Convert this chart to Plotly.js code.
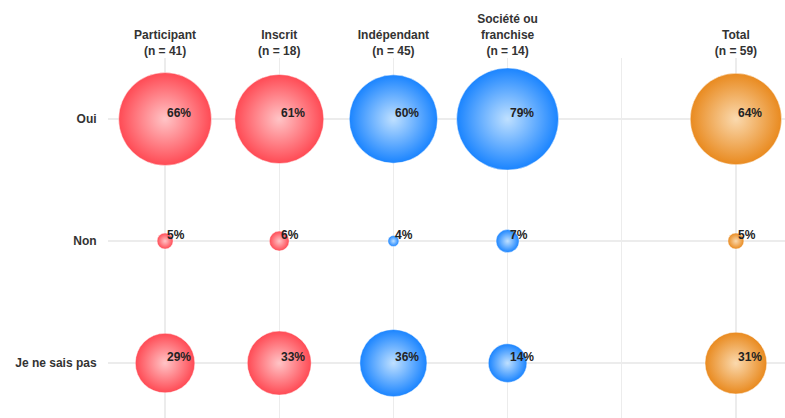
<!DOCTYPE html>
<html>
<head>
<meta charset="utf-8">
<script src="https://cdn.plot.ly/plotly-3.0.1.min.js"></script>
<style>html,body{margin:0;padding:0;background:#fff;}#chart{width:785px;height:418px;}</style>
</head>
<body>
<div id="chart"></div>
<script>
// ---- data ----
var columns = ["Participant<br>(n = 41)", "Inscrit<br>(n = 18)", "Indépendant<br>(n = 45)", "Société ou<br>franchise<br>(n = 14)", "", "Total<br>(n = 59)"];
var rows = ["Oui", "Non", "Je ne sais pas"];
var participant = [66, 5, 29];
var inscrit = [61, 6, 33];
var independant = [60, 4, 36];
var societe = [79, 7, 14];
var total = [64, 5, 31];

// ---- styling ----
var series = [
  {col: 0, vals: participant, edge: "#ff4a54", center: "#ffc4c6"},
  {col: 1, vals: inscrit, edge: "#ff4a54", center: "#ffc4c6"},
  {col: 2, vals: independant, edge: "#1a84ff", center: "#bfe0ff"},
  {col: 3, vals: societe, edge: "#1a84ff", center: "#bfe0ff"},
  {col: 5, vals: total, edge: "#e98a1f", center: "#fad9ae"}
];
var all = [].concat(participant, inscrit, independant, societe, total);
var zMin = Math.min.apply(null, all), zMax = Math.max.apply(null, all);
var minS = 11, maxS = 102;
function diam(v) {
  var p = (v - zMin) / (zMax - zMin);
  return Math.sqrt(minS * minS + p * (maxS * maxS - minS * minS));
}

var traces = [];
var annotations = [];
series.forEach(function (s) {
  var xs = rows.map(function () { return s.col; });
  var ys = rows.map(function (r, i) { return i; });
  traces.push({
    type: "scatter", mode: "markers",
    x: xs, y: ys,
    hoverinfo: "skip",
    marker: {
      size: s.vals.map(diam),
      sizemode: "diameter",
      color: s.edge,
      gradient: {type: "radial", color: s.center},
      line: {width: 0.8, color: "rgba(255,255,255,0.6)"},
      opacity: 1
    },
    showlegend: false
  });
  s.vals.forEach(function (v, i) {
    annotations.push({
      x: s.col, y: i, xref: "x", yref: "y",
      text: "<b>" + v + "%</b>",
      showarrow: false, xanchor: "left", yanchor: "middle",
      xshift: 0, yshift: 6,
      font: {family: "Liberation Sans, Arial, sans-serif", size: 12, color: "#222"}
    });
  });
});

var layout = {
  width: 785, height: 418,
  margin: {l: 108, r: 0, t: 58, b: 0},
  paper_bgcolor: "#fff", plot_bgcolor: "#fff",
  font: {family: "Liberation Sans, Arial, sans-serif", size: 12, color: "#333"},
  xaxis: {
    side: "top",
    range: [-0.5, 5.43],
    tickvals: columns.map(function (c, i) { return i; }),
    ticktext: columns.map(function (c) { return c ? "<b>" + c.split("<br>").join("</b><br><b>") + "</b>" : ""; }),
    showgrid: true, gridcolor: "#ececec", gridwidth: 1.5,
    zeroline: false, showline: false,
    ticks: "", 
    tickfont: {size: 12, color: "#333"}
  },
  yaxis: {
    range: [2.45, -0.5],
    tickvals: rows.map(function (r, i) { return i; }),
    ticktext: rows.map(function (r) { return "<b>" + r + "</b>"; }),
    showgrid: true, gridcolor: "#ececec", gridwidth: 1.5,
    zeroline: false, showline: false,
    ticks: "outside", ticklen: 8, tickcolor: "rgba(0,0,0,0)",
    tickfont: {size: 12, color: "#333"}
  },
  annotations: annotations
};

Plotly.newPlot("chart", traces, layout, {displayModeBar: false, staticPlot: true});
</script>
</body>
</html>
